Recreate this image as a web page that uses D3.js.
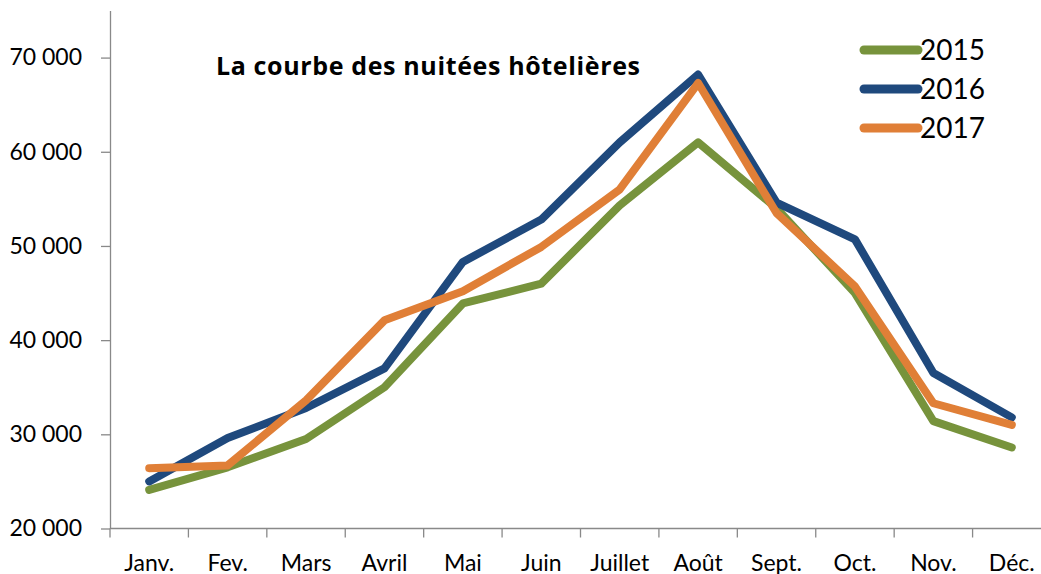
<!DOCTYPE html>
<html>
<head>
<meta charset="utf-8">
<script src="https://cdnjs.cloudflare.com/ajax/libs/d3/7.8.5/d3.min.js"></script>
<style>
    * { margin: 0; padding: 0; }
    body { background: #fff; }
    svg { display: block; }
    .axis path, .axis line { stroke: #898989; stroke-width: 1.3; }
    .axis text { font-family: Lato, sans-serif; font-size: 23px; fill: #000; }
</style>
</head>
<body>
<div id="chart"></div>
<script>
    // Months on the x axis
    const months = ['Janv.', 'Fev.', 'Mars', 'Avril', 'Mai', 'Juin', 'Juillet', 'Août', 'Sept.', 'Oct.', 'Nov.', 'Déc.'];
    // Hotel nights per year
    const years = ['2015', '2016', '2017'];
    const values2015 = [24100, 26500, 29500, 35000, 43900, 46000, 54300, 61000, 54000, 45000, 31400, 28600];
    const values2016 = [25000, 29600, 32800, 37000, 48300, 52800, 61000, 68200, 54600, 50700, 36500, 31800];
    const values2017 = [26400, 26700, 33600, 42100, 45200, 49900, 56000, 67300, 53500, 45700, 33300, 31000];
    const colors = ['#77933c', '#1f497d', '#e07f37'];
    const yTicks = [20000, 30000, 40000, 50000, 60000, 70000];
    const title = 'La courbe des nuitées hôtelières';

    const width = 1041, height = 574;
    const plotLeft = 110, plotRight = 1051, plotTop = 10.5, plotBottom = 528.5;

    var svg = d3.select('#chart').append('svg')
        .attr('width', width)
        .attr('height', height);

    var x = d3.scaleBand().domain(months).range([plotLeft, plotRight]).padding(0);
    var y = d3.scaleLinear().domain([20000, 75000]).range([plotBottom, plotTop]);

    // y axis
    var fmt = function(d) { return d3.format(',')(d).replace(',', ' '); };
    svg.append('g')
        .attr('class', 'axis')
        .attr('transform', 'translate(' + plotLeft + ',0)')
        .call(d3.axisLeft(y).tickValues(yTicks).tickSize(9).tickSizeOuter(0).tickPadding(19).tickFormat(fmt));

    // x axis: labels centred in each band, ticks between bands
    var xAxis = svg.append('g')
        .attr('class', 'axis')
        .attr('transform', 'translate(0,' + plotBottom + ')');
    xAxis.append('line')
        .attr('x1', plotLeft).attr('x2', width);
    xAxis.selectAll('.tk')
        .data(months)
        .enter().append('line')
        .attr('class', 'tk')
        .attr('x1', d => x(d)).attr('x2', d => x(d))
        .attr('y1', 0).attr('y2', 9);
    xAxis.selectAll('text')
        .data(months)
        .enter().append('text')
        .attr('x', d => x(d) + x.bandwidth() / 2)
        .attr('y', 42)
        .attr('text-anchor', 'middle')
        .text(d => d);

    // lines
    var series = [values2015, values2016, values2017];
    var line = d3.line()
        .x((d, i) => x(months[i]) + x.bandwidth() / 2)
        .y(d => y(d));

    svg.selectAll('.series')
        .data(series)
        .enter().append('path')
        .attr('class', 'series')
        .attr('d', line)
        .attr('fill', 'none')
        .attr('stroke', (d, i) => colors[i])
        .attr('stroke-width', 8)
        .attr('stroke-linejoin', 'round')
        .attr('stroke-linecap', 'round');

    // title
    svg.append('text')
        .attr('x', 216)
        .attr('y', 75)
        .style('font-family', '"Open Sans", sans-serif')
        .style('font-weight', 'bold')
        .style('font-size', '25px')
        .attr('textLength', 424)
        .attr('lengthAdjust', 'spacing')
        .text(title);

    // legend
    var legend = svg.selectAll('.legend')
        .data(years)
        .enter().append('g')
        .attr('class', 'legend')
        .attr('transform', (d, i) => 'translate(864,' + (50 + i * 39) + ')');
    legend.append('line')
        .attr('x1', 0).attr('x2', 54)
        .attr('stroke', (d, i) => colors[i])
        .attr('stroke-width', 9)
        .attr('stroke-linecap', 'round');
    legend.append('text')
        .attr('x', 56)
        .attr('y', 10)
        .style('font-family', 'Lato, sans-serif')
        .style('font-size', '28px')
        .text(d => d);
</script>
</body>
</html>
